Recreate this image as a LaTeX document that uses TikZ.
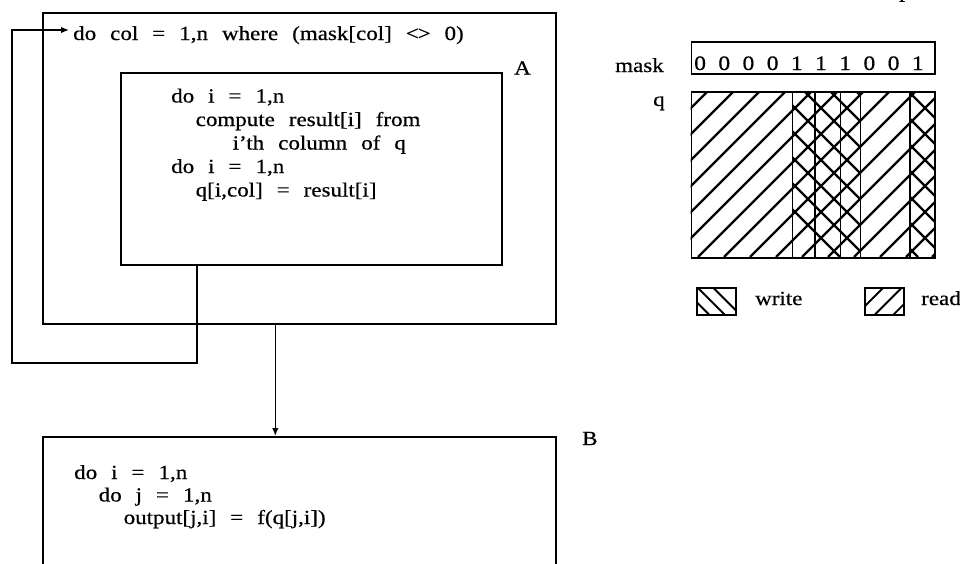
\documentclass[tikz,border=0pt]{standalone}
\usepackage{fontspec}
\setmainfont{Liberation Serif}[FakeStretch=1.15,FakeBold=0.6]
\usetikzlibrary{arrows.meta}
\newcommand\codefnt{\fontsize{20}{24}\selectfont\spaceskip=14pt\relax}
\newcommand\digitfnt{\fontsize{20.5}{24}\selectfont\spaceskip=12.4pt\relax}
\begin{document}
\begin{tikzpicture}[x=1pt,y=-1pt,
  box/.style={draw, line width=1.6pt, inner sep=0pt, anchor=north west},
  code/.style={anchor=base west, inner sep=0pt, font=\codefnt},
  lbl/.style={anchor=base west, inner sep=0pt, font=\fontsize{20}{24}\selectfont},
  conn/.style={line width=1.4pt},
  arr/.style={conn, -{Latex[length=8pt,width=6.5pt]}},
  hatch/.style={line width=2.2pt},
  lhatch/.style={line width=1.8pt}
]
\useasboundingbox (0,0) rectangle (960,563);
\clip (0,0) rectangle (960,563);

% ---- boxes
\node[box, minimum width=513pt, minimum height=311pt] (A) at (42,12) {};
\node[box, minimum width=381pt, minimum height=192pt] (Ain) at (120,72) {};
\node[box, minimum width=513pt, minimum height=200pt] (B) at (42,436) {};

% ---- texts of A
\node[code] (hdr) at (73,40) {do col = 1,n where (mask[col] {<}\kern-0.06em{>} 0)};
\node[lbl] (labA) at (514,74.5) {A};
\node[code] (a1) at (171,102.5) {do i = 1,n};
\node[code] (a2) at (195.5,126) {compute result[i] from};
\node[code] (a3) at (232.5,149.5) {i’th column of q};
\node[code] (a4) at (171,173) {do i = 1,n};
\node[code] (a5) at (195.5,196.5) {q[i,col] = result[i]};

% ---- texts of B
\node[lbl] (labB) at (582,445) {B};
\node[code] (b1) at (74,479) {do i = 1,n};
\node[code] (b2) at (98.5,501.5) {do j = 1,n};
\node[code] (b3) at (123.5,524) {output[j,i] = f(q[j,i])};

% ---- connectors
\coordinate (loopBL) at (12,363);
\coordinate (loopend) at (69,30);
\draw[arr] ([xshift=-114.5pt]Ain.south) |- (loopBL) |- (loopend);
\draw[arr] ([xshift=-24pt]A.south) -- ([xshift=-24pt]B.north);

% ---- fragment of a letter cut by the top edge
\node[lbl] (frag) at (899,-2.5) {p};

% ---- mask
\node[lbl] (masklbl) at (615,72) {mask};
\node[box, minimum width=243.5pt, minimum height=32pt] (maskbox) at (690.5,41) {};
\node[anchor=base west, inner sep=0pt, font=\digitfnt] (digits) at (694,70) {0 0 0 0 1 1 1 0 0 1};

% ---- q
\node[lbl] (qlbl) at (653,106) {q};
\node[box, minimum width=243.5pt, minimum height=166pt] (qbox) at (690.5,91) {};
\begin{scope}
  \clip (qbox.north west) rectangle (qbox.south east);
  \foreach \k in {-8,...,17} {
    \draw[hatch] (708+26*\k-166, 257) -- ++(166,-166);
  }
  \clip (792.7,91) rectangle (860.7,257) (910,91) rectangle (934,257);
  \foreach \k in {-1,...,16} {
    \draw[hatch] (700+26*\k, 91) -- ++(166,166);
  }
\end{scope}
\foreach \xx in {792.7,815,840.7,860.7,910} {
  \draw[conn] (\xx,91) -- (\xx,257);
}
\node[box, minimum width=243.5pt, minimum height=166pt] at (690.5,91) {};

% ---- legend
\node[box, minimum width=39pt, minimum height=27pt] (wbox) at (696,287) {};
\begin{scope}
  \clip (wbox.north west) rectangle (wbox.south east);
  \foreach \k in {0,1,2} {
    \draw[lhatch] (674.5+15.5*\k, 280) -- ++(40,40);
  }
\end{scope}
\node[lbl] (wtxt) at (755,305) {write};
\node[box, minimum width=39pt, minimum height=27pt] (rbox) at (864,287) {};
\begin{scope}
  \clip (rbox.north west) rectangle (rbox.south east);
  \foreach \k in {0,1,2} {
    \draw[lhatch] (851+18.5*\k, 320) -- ++(40,-40);
  }
\end{scope}
\node[lbl] (rtxt) at (921,305) {read};
\end{tikzpicture}
\end{document}
